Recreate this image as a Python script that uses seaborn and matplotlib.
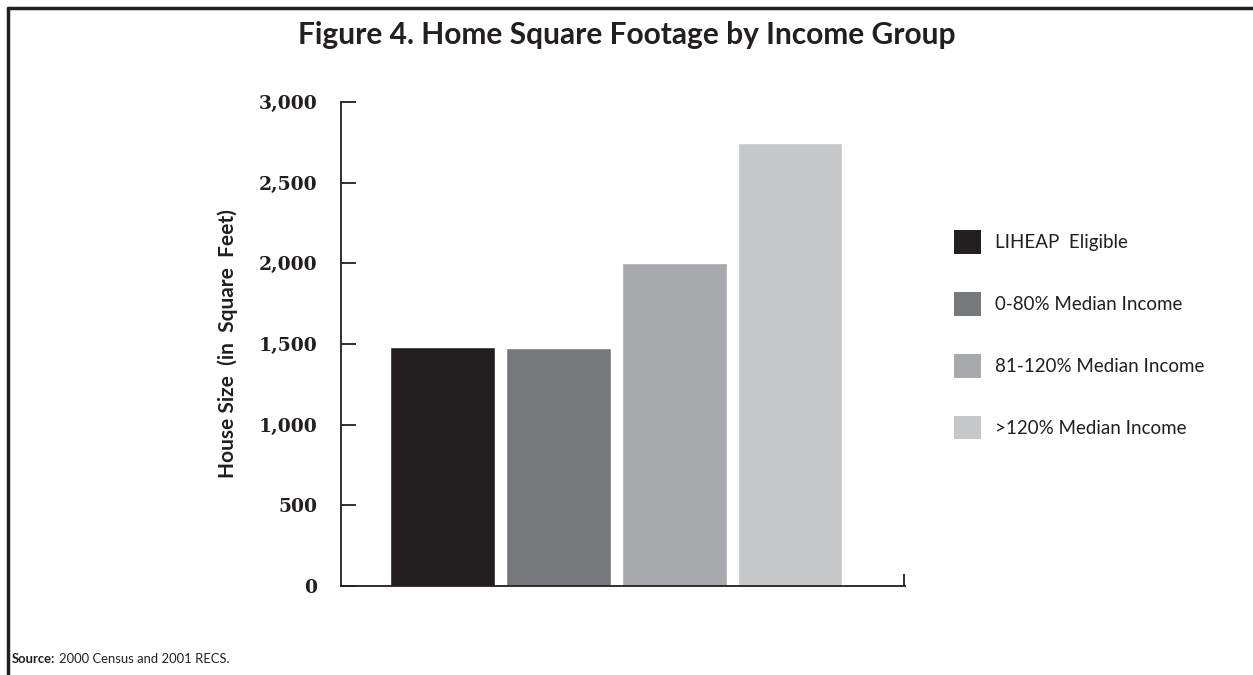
import numpy as np
import pandas as pd
import matplotlib
matplotlib.use("Agg")
import matplotlib.pyplot as plt
from matplotlib.patches import Patch
from matplotlib.lines import Line2D
import seaborn as sns


groups = ["LIHEAP  Eligible", "0-80% Median Income",
          "81-120% Median Income", ">120% Median Income"]
sqft = [1482, 1478, 2002, 2748]
colors = ["#231f20", "#77787b", "#a7a9ac", "#c7c8ca"]
yticks = [0, 500, 1000, 1500, 2000, 2500, 3000]

df = pd.DataFrame({"group": groups, "sqft": sqft})

sns.set_style("white")
plt.rcParams["font.family"] = ["Lato", "DejaVu Sans"]

fig = plt.figure(figsize=(12.53, 6.75), dpi=100)
ax = fig.add_axes([0.2721, 0.1319, 0.4502, 0.7170])

sns.barplot(data=df, x="group", y="sqft", hue="group", palette=colors,
            width=0.9, saturation=1, legend=False, ax=ax)

ax.set_ylim(0, 3000)
ax.set_xlim(-0.876, 3.99)
ax.set_yticks(yticks)
ax.set_yticklabels([f"{v:,}" for v in yticks],
                   family="DejaVu Serif", fontweight="bold", fontsize=13.5,
                   color="#231f20")
ax.set_xticks([])
ax.set_xticks([3.985], minor=True)
ax.tick_params(axis="x", which="minor", direction="in", length=9,
               width=1.3, color="#231f20", bottom=True, labelbottom=False)
ax.tick_params(axis="y", direction="in", length=11, width=1.3,
               color="#231f20", pad=17, left=True)
ax.set_xlabel("")
ax.set_ylabel("House Size  (in  Square  Feet)", fontsize=15,
              fontweight="bold", color="#231f20", labelpad=15)

sns.despine(ax=ax, top=True, right=True)
for s in ["left", "bottom"]:
    ax.spines[s].set_color("#231f20")
    ax.spines[s].set_linewidth(1.3)

handles = [Patch(facecolor=c, edgecolor="none") for c in colors]
fig.legend(handles, groups, loc="upper left", bbox_to_anchor=(0.748, 0.684),
           frameon=False, fontsize=13.5, handlelength=1.45, handleheight=1.55,
           labelspacing=2.05, handletextpad=0.75, labelcolor="#231f20")

fig.suptitle("Figure 4. Home Square Footage by Income Group", x=0.5, y=0.948,
             va="center", fontsize=21.5, fontweight="bold", color="#231f20")

fig.text(0.0096, 0.018, "Source:", fontsize=9.4, fontweight="bold",
         color="#231f20", va="baseline")
fig.text(0.047, 0.018, "2000 Census and 2001 RECS.", fontsize=9.4,
         color="#231f20", va="baseline")

# page frame, top and left edges
fig.add_artist(Line2D([0.0064, 1.0], [0.988, 0.988], color="#231f20",
                      lw=2.5, transform=fig.transFigure))
fig.add_artist(Line2D([0.0064, 0.0064], [0.0, 0.988], color="#231f20",
                      lw=2.5, transform=fig.transFigure))

fig.savefig("out.png", dpi=100)
